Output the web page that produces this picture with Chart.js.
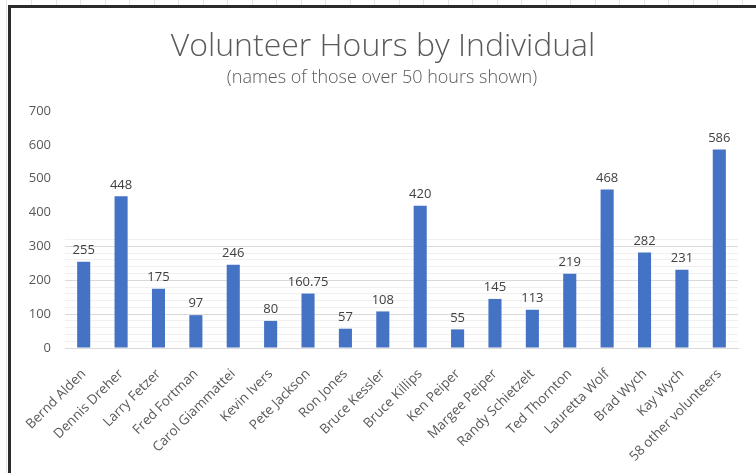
<!DOCTYPE html>
<html>
<head>
<meta charset="utf-8">
<script src="https://cdn.jsdelivr.net/npm/chart.js@4"></script>
<style>
  html, body { margin: 0; padding: 0; background: #fff; }
  #wrap { width: 756px; height: 473px; }
</style>
</head>
<body>
<div id="wrap"><canvas id="volChart" width="756" height="473"></canvas></div>
<script>
const names = ['Bernd Alden', 'Dennis Dreher', 'Larry Fetzer', 'Fred Fortman', 'Carol Giammattei',
  'Kevin Ivers', 'Pete Jackson', 'Ron Jones', 'Bruce Kessler', 'Bruce Killips', 'Ken Peiper',
  'Margee Peiper', 'Randy Schietzelt', 'Ted Thornton', 'Lauretta Wolf', 'Brad Wych', 'Kay Wych',
  '58 other volunteers'];
const hours = [255, 448, 175, 97, 246, 80, 160.75, 57, 108, 420, 55, 145, 113, 219, 468, 282, 231, 586];
const yTicks = [0, 100, 200, 300, 400, 500, 600, 700];

const titleText = 'Volunteer Hours by Individual';
const subtitleText = '(names of those over 50 hours shown)';

// frame, sheet lines and titles drawn straight on the canvas
const framePlugin = {
  id: 'frame',
  beforeDraw(chart) {
    const ctx = chart.ctx;
    ctx.save();
    ctx.fillStyle = '#fff';
    ctx.fillRect(0, 0, chart.width, chart.height);
    // faint spreadsheet cell lines above the chart
    ctx.strokeStyle = '#e4e4e4';
    ctx.lineWidth = 1;
    for (let x = 31; x < chart.width; x += 24.5) {
      ctx.beginPath(); ctx.moveTo(Math.round(x) + 0.5, 0); ctx.lineTo(Math.round(x) + 0.5, 5); ctx.stroke();
    }
    ctx.beginPath(); ctx.moveTo(6.5, 0); ctx.lineTo(6.5, chart.height); ctx.stroke();
    // dark chart border
    ctx.strokeStyle = '#2b2b2b';
    ctx.lineWidth = 3;
    ctx.beginPath();
    ctx.moveTo(9.5, chart.height);
    ctx.lineTo(9.5, 6.5);
    ctx.lineTo(chart.width, 6.5);
    ctx.stroke();
    // titles
    ctx.fillStyle = '#595959';
    ctx.textAlign = 'center';
    ctx.textBaseline = 'alphabetic';
    ctx.font = '300 32px "Open Sans"';
    ctx.fillText(titleText, 383, 56);
    ctx.font = '300 18px "Open Sans"';
    ctx.fillText(subtitleText, 382, 83);
    ctx.restore();
  },
  afterDatasetsDraw(chart) {
    const ctx = chart.ctx;
    const meta = chart.getDatasetMeta(0);
    ctx.save();
    ctx.fillStyle = '#404040';
    ctx.font = '13px "Open Sans"';
    ctx.textAlign = 'center';
    ctx.textBaseline = 'bottom';
    meta.data.forEach((bar, i) => {
      ctx.fillText(String(hours[i]), bar.x, bar.y - 5);
    });
    ctx.restore();
  }
};

const ctx = document.getElementById('volChart').getContext('2d');
new Chart(ctx, {
  type: 'bar',
  data: {
    labels: names,
    datasets: [{
      data: hours,
      backgroundColor: '#4472C4',
      borderWidth: 0,
      barPercentage: 0.35,
      categoryPercentage: 1
    }]
  },
  options: {
    responsive: false,
    animation: false,
    devicePixelRatio: 1,
    layout: { padding: { top: 111, right: 18, left: 0, bottom: 0 } },
    plugins: {
      legend: { display: false },
      tooltip: { enabled: false }
    },
    scales: {
      x: {
        grid: { display: false },
        border: { display: true, color: '#d9d9d9', width: 1 },
        ticks: {
          color: '#595959',
          font: { family: '"Open Sans"', size: 13.5 },
          minRotation: 45,
          maxRotation: 45,
          autoSkip: false,
          padding: 10
        },
        afterFit(scale) { scale.height = 125; }
      },
      y: {
        min: 0,
        max: 700,
        border: { display: false },
        afterBuildTicks(scale) {
          const t = [];
          for (let v = 0; v <= 700; v += 20) t.push({ value: v });
          scale.ticks = t;
        },
        grid: {
          drawTicks: false,
          color(c) {
            const v = c.tick.value;
            if (v > 320) return 'rgba(0,0,0,0)';
            return v % 100 === 0 ? '#d9d9d9' : '#f0f0f0';
          }
        },
        ticks: {
          autoSkip: false,
          padding: 14,
          color: '#595959',
          font: { family: '"Open Sans"', size: 13 },
          callback(v) { return yTicks.includes(v) ? String(v) : ''; }
        },
        afterFit(scale) { scale.width = 65; }
      }
    }
  },
  plugins: [framePlugin]
});
</script>
</body>
</html>
